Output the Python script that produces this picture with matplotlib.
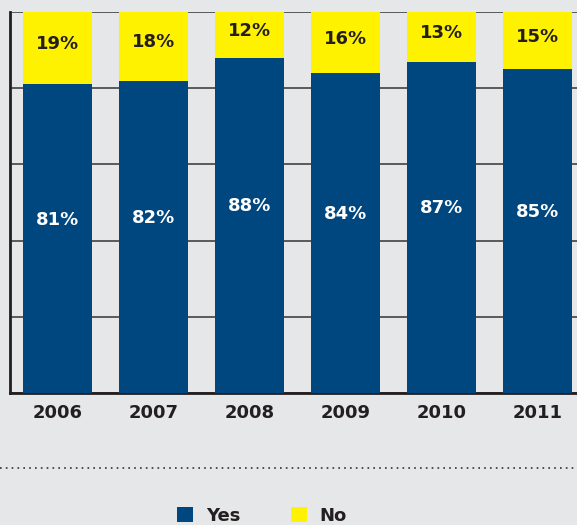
import matplotlib
matplotlib.use("Agg")
import matplotlib.pyplot as plt
from matplotlib.patches import Patch
from matplotlib.lines import Line2D

years = ["2006", "2007", "2008", "2009", "2010", "2011"]
yes_pct = [81, 82, 88, 84, 87, 85]
no_pct = [19, 18, 12, 16, 13, 15]

BG = "#e6e7e8"
BLUE = "#00467f"
YELLOW = "#fff200"
INK = "#231f20"

W, H = 577, 525
fig = plt.figure(figsize=(W / 100, H / 100), dpi=100, facecolor=BG)
ax = fig.add_axes([10 / W, 132 / H, 567 / W, 381 / H], facecolor=BG)

x = list(range(len(years)))
ax.bar(x, yes_pct, width=0.72, color=BLUE, zorder=3)
ax.bar(x, no_pct, bottom=yes_pct, width=0.72, color=YELLOW, zorder=3)

for xi, y, n in zip(x, yes_pct, no_pct):
    ax.text(xi, y / 2 + 5, f"{y}%", ha="center", va="center",
            color="white", fontsize=13, fontweight="bold", zorder=4)
    ax.text(xi, y + n / 2 + 1, f"{n}%", ha="center", va="center",
            color=INK, fontsize=13, fontweight="bold", zorder=4)

ax.set_xlim(-0.495, 5.41)
ax.set_ylim(0, 100)
ax.set_yticks([0, 20, 40, 60, 80, 100])
ax.yaxis.grid(True, color="#333333", linewidth=1.1)
ax.set_axisbelow(True)
ax.tick_params(axis="y", length=0, labelleft=False)
ax.set_xticks(x)
ax.set_xticklabels(years, fontsize=13, fontweight="bold", color=INK)
ax.tick_params(axis="x", length=0, pad=8)

for side in ("top", "right"):
    ax.spines[side].set_visible(False)
for side in ("left", "bottom"):
    ax.spines[side].set_color(INK)
    ax.spines[side].set_linewidth(2)

# dotted separator above the legend
fig.add_artist(Line2D([0, 1], [1 - 468 / H, 1 - 468 / H], transform=fig.transFigure,
                      color="#333333", linewidth=1.2, linestyle=(0, (1, 2.5))))

handles = [Patch(facecolor=BLUE, edgecolor="none", label="Yes"),
           Patch(facecolor=YELLOW, edgecolor="none", label="No")]
fig.legend(handles=handles, loc="center", bbox_to_anchor=(262 / W, 1 - 516 / H),
           ncol=2, frameon=False, prop={"size": 13, "weight": "bold"},
           labelcolor=INK, handlelength=0.9, handleheight=0.9,
           handletextpad=0.7, columnspacing=2.8)

fig.savefig("out.png", dpi=100, facecolor=BG)
